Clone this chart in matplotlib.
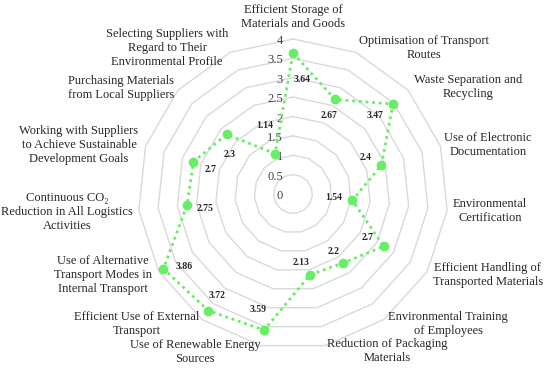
import matplotlib
matplotlib.use("Agg")
import matplotlib.pyplot as plt
import numpy as np

# ---------------------------------------------------------------------------
# Data
# ---------------------------------------------------------------------------
categories = [
    "Efficient Storage of\nMaterials and Goods",
    "Optimisation of Transport\nRoutes",
    "Waste Separation and\nRecycling",
    "Use of Electronic\nDocumentation",
    "Environmental\nCertification",
    "Efficient Handling of\nTransported Materials",
    "Environmental Training\nof Employees",
    "Reduction of Packaging\nMaterials",
    "Use of Renewable Energy\nSources",
    "Efficient Use of External\nTransport",
    "Use of Alternative\nTransport Modes in\nInternal Transport",
    "Continuous CO\u2082\nReduction in All Logistics\nActivities",
    "Working with Suppliers\nto Achieve Sustainable\nDevelopment Goals",
    "Purchasing Materials\nfrom Local Suppliers",
    "Selecting Suppliers with\nRegard to Their\nEnvironmental Profile",
]
scores = [3.64, 2.67, 3.47, 2.4, 1.54, 2.7, 2.2, 2.13, 3.59, 3.72, 3.86, 2.75, 2.7, 2.3, 1.14]
score_labels = ["3.64", "2.67", "3.47", "2.4", "1.54", "2.7", "2.2", "2.13",
                "3.59", "3.72", "3.86", "2.75", "2.7", "2.3", "1.14"]
ring_levels = [0.5, 1.0, 1.5, 2.0, 2.5, 3.0, 3.5, 4.0]
tick_values = [0, 0.5, 1, 1.5, 2, 2.5, 3, 3.5, 4]
tick_labels = ["0", "0.5", "1", "1.5", "2", "2.5", "3", "3.5", "4"]

# ---------------------------------------------------------------------------
# Layout / style (pixel positions of the figure, 550x368)
# ---------------------------------------------------------------------------
W, H = 550, 368
# category label centres (px from top-left)
cat_pos = [
    (293, 17), (424, 48), (468, 87), (488, 145), (490, 211), (488, 275),
    (448, 324), (387, 351), (195, 352), (137, 324), (103, 275), (67, 212),
    (79, 145), (121, 88), (167, 48),
]
# value label offsets relative to the marker (px, y downwards)
val_off = [
    (9, 27), (-6, 16), (-18, 11), (-16, -8), (-19, -3), (-16, -9), (-10, -11),
    (-9, -12), (-6, -21), (9, -15), (21, -2), (18, 3), (17, 8), (3, 20), (-10, -28),
]
GREEN = "#66ee66"
GRID = "#d9d9d9"
SERIF = ["Liberation Serif", "DejaVu Serif"]

plt.rcParams["font.family"] = SERIF

fig = plt.figure(figsize=(W / 100, H / 100), dpi=100)
cx, cy, rad = 293, 194, 155
ax = fig.add_axes([(cx - rad) / W, (H - cy - rad) / H, 2 * rad / W, 2 * rad / H],
                  projection="polar")
ax.set_theta_zero_location("N")
ax.set_theta_direction(-1)
ax.set_ylim(0, 4)
ax.grid(False)
ax.spines["polar"].set_visible(False)
ax.set_xticks([])
ax.set_yticks([])
ax.patch.set_alpha(0)

n = len(categories)
angles = np.linspace(0, 2 * np.pi, n, endpoint=False)
closed = np.append(angles, angles[0])

# polygonal rings
for lvl in ring_levels:
    ax.plot(closed, [lvl] * (n + 1), color=GRID, lw=1.0, zorder=1, clip_on=False)

# radial tick labels along the top spoke
for v, lbl in zip(tick_values, tick_labels):
    ax.annotate(lbl, xy=(0, v), xytext=(-10, -2), textcoords="offset pixels",
                ha="right", va="center", fontsize=9, color="#404040", zorder=3,
                annotation_clip=False)

# data series
vals = np.append(scores, scores[0])
ax.plot(closed, vals, color=GREEN, lw=2.0, ls=(0, (1, 1.4)), zorder=4, clip_on=False)
ax.plot(angles, scores, "o", color=GREEN, ms=6, zorder=5, clip_on=False)

for a, v, lbl, (dx, dy) in zip(angles, scores, score_labels, val_off):
    ax.annotate(lbl, xy=(a, v), xytext=(dx, -dy), textcoords="offset pixels",
                ha="center", va="center", fontsize=7, fontweight="bold",
                color="#262626", zorder=6, annotation_clip=False)

for lbl, (px, py) in zip(categories, cat_pos):
    fig.text(px / W, 1 - py / H, lbl, ha="center", va="center", fontsize=9,
             color="#262626", linespacing=1.2)

fig.savefig("out.png", dpi=100)
